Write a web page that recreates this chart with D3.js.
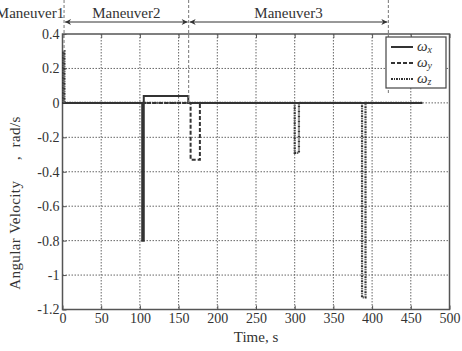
<!DOCTYPE html>
<html>
<head>
<meta charset="utf-8">
<title>Angular Velocity</title>
<style>
    body, html {
        margin: 0;
        padding: 0;
        background: #fff;
    }
    svg text {
        font-family: "Liberation Serif", "DejaVu Serif", serif;
        fill: #333;
    }
    .grid line {
        stroke: #666;
        stroke-width: 1;
        stroke-dasharray: 1.5, 1.5;
    }
</style>
</head>
<body>
<div id="chart"></div>
<script src="https://d3js.org/d3.v7.min.js"></script>
<script>

    // axis ticks
    var xTicks = [0, 50, 100, 150, 200, 250, 300, 350, 400, 450, 500];
    var yTicks = [0.4, 0.2, 0, -0.2, -0.4, -0.6, -0.8, -1, -1.2];

    // series (time in s, value in rad/s)
    var wxTime = [0, 103, 103, 105, 105, 162.5, 162.5, 465];
    var wxVal  = [0, 0, -0.8, -0.8, 0.04, 0.04, 0, 0];

    var wyTime = [0, 165.5, 165.5, 177.5, 177.5, 465];
    var wyVal  = [0, 0, -0.33, -0.33, 0, 0];

    var wzTime = [0, 1, 1, 2.5, 2.5, 300, 300, 305.5, 305.5, 387, 387, 391.5, 391.5, 465];
    var wzVal  = [0, 0, 0.3, 0.3, 0, 0, -0.29, -0.29, 0, 0, -1.13, -1.13, 0, 0];

    // manoeuvre boundaries (s) and names
    var maneuverBounds = [2, 163, 421];
    var maneuverNames = ['Maneuver1', 'Maneuver2', 'Maneuver3'];

    var width = 462;
    var height = 351;
    var plotL = 62.5, plotR = 449.5, plotT = 34, plotB = 309.5;

    var svg = d3.select('#chart')
        .append('svg')
        .attr('width', width)
        .attr('height', height);

    var x = d3.scaleLinear().domain([0, 500]).range([plotL, plotR]);
    var y = d3.scaleLinear().domain([-1.2, 0.4]).range([plotB, plotT]);

    // grid
    var grid = svg.append('g').attr('class', 'grid');
    grid.selectAll('.vx')
        .data(xTicks.slice(1, -1))
        .enter()
        .append('line')
        .attr('x1', function(d) { return x(d); })
        .attr('x2', function(d) { return x(d); })
        .attr('y1', plotT)
        .attr('y2', plotB);
    grid.selectAll('.hy')
        .data(yTicks.slice(1, -1))
        .enter()
        .append('line')
        .attr('x1', plotL)
        .attr('x2', plotR)
        .attr('y1', function(d) { return y(d); })
        .attr('y2', function(d) { return y(d); });

    // frame
    svg.append('rect')
        .attr('x', plotL)
        .attr('y', plotT)
        .attr('width', plotR - plotL)
        .attr('height', plotB - plotT)
        .attr('fill', 'none')
        .attr('stroke', '#555')
        .attr('stroke-width', 1.5);

    // axes (plain hyphen minus like the original)
    var fmt = function(d) { return String(d); };
    var xAxis = svg.append('g')
        .attr('transform', 'translate(0,' + plotB + ')')
        .call(d3.axisBottom(x).tickValues(xTicks).tickSizeInner(-4).tickSizeOuter(0).tickPadding(6).tickFormat(fmt));
    var yAxis = svg.append('g')
        .attr('transform', 'translate(' + plotL + ',0)')
        .call(d3.axisLeft(y).tickValues(yTicks).tickSizeInner(-4).tickSizeOuter(0).tickPadding(3).tickFormat(fmt));
    svg.selectAll('.domain').remove();
    svg.selectAll('.tick line').attr('stroke', '#555');
    svg.selectAll('.tick text')
        .style('font-size', '14px')
        .style('font-family', '"Liberation Serif", serif')
        .attr('fill', '#333');
    xAxis.selectAll('.tick text').attr('dy', '0.55em');

    // top ticks
    svg.append('g')
        .attr('transform', 'translate(0,' + plotT + ')')
        .call(d3.axisTop(x).tickValues(xTicks).tickSizeInner(-4).tickSizeOuter(0).tickFormat(''))
        .call(function(g) { g.select('.domain').remove(); g.selectAll('line').attr('stroke', '#555'); });

    // labels
    svg.append('text')
        .attr('x', (plotL + plotR) / 2)
        .attr('y', 342)
        .attr('text-anchor', 'middle')
        .style('font-size', '15px')
        .text('Time, s');

    svg.append('text')
        .attr('transform', 'translate(20,' + 203 + ') rotate(-90)')
        .attr('text-anchor', 'middle')
        .style('font-size', '15px')
        .style('letter-spacing', '0.4px')
        .style('white-space', 'pre')
        .text('Angular Velocity     ,  rad/s');

    // series
    var line = d3.line()
        .x(function(d) { return x(d[0]); })
        .y(function(d) { return y(d[1]); });

    var series = [
        { name: 'x', time: wxTime, val: wxVal, dash: null, width: 2 },
        { name: 'y', time: wyTime, val: wyVal, dash: '4,2', width: 2 },
        { name: 'z', time: wzTime, val: wzVal, dash: '2,1,1,1', width: 2.2 }
    ];

    series.slice().reverse().forEach(function(s) {
        var pts = s.time.map(function(t, i) { return [t, s.val[i]]; });
        svg.append('path')
            .datum(pts)
            .attr('d', line)
            .attr('fill', 'none')
            .attr('stroke', '#333')
            .attr('stroke-width', s.width)
            .attr('stroke-dasharray', s.dash);
    });

    // manoeuvre markers
    svg.selectAll('.bound')
        .data(maneuverBounds)
        .enter()
        .append('line')
        .attr('x1', function(d) { return x(d); })
        .attr('x2', function(d) { return x(d); })
        .attr('y1', 0)
        .attr('y2', function(d, i) { return i == 2 ? 95 : y(0); })
        .attr('stroke', '#777')
        .attr('stroke-width', 1)
        .attr('stroke-dasharray', '3,2');

    var defs = svg.append('defs');
    defs.append('marker')
        .attr('id', 'arrow')
        .attr('viewBox', '0 0 10 10')
        .attr('refX', 10)
        .attr('refY', 5)
        .attr('markerWidth', 7)
        .attr('markerHeight', 6)
        .attr('markerUnits', 'userSpaceOnUse')
        .attr('orient', 'auto-start-reverse')
        .append('path')
        .attr('d', 'M0,0 L10,5 L0,10 L3,5 Z')
        .attr('fill', '#333');

    var arrowY = 22;
    for (var k = 0; k < maneuverBounds.length - 1; k++) {
        svg.append('line')
            .attr('x1', x(maneuverBounds[k]) + 1)
            .attr('x2', x(maneuverBounds[k + 1]) - 1)
            .attr('y1', arrowY)
            .attr('y2', arrowY)
            .attr('stroke', '#333')
            .attr('stroke-width', 1)
            .attr('marker-start', 'url(#arrow)')
            .attr('marker-end', 'url(#arrow)');
    }

    var labelX = [30, (x(maneuverBounds[0]) + x(maneuverBounds[1])) / 2, (x(maneuverBounds[1]) + x(maneuverBounds[2])) / 2];
    svg.selectAll('.mlabel')
        .data(maneuverNames)
        .enter()
        .append('text')
        .attr('x', function(d, i) { return labelX[i]; })
        .attr('y', 18)
        .attr('text-anchor', 'middle')
        .style('font-size', '15px')
        .text(function(d) { return d; });

    // legend
    var legend = svg.append('g').attr('transform', 'translate(386,37)');
    legend.append('rect')
        .attr('width', 60)
        .attr('height', 51)
        .attr('fill', '#fff')
        .attr('stroke', '#444')
        .attr('stroke-width', 1.2);

    series.forEach(function(s, i) {
        var g = legend.append('g').attr('transform', 'translate(0,' + (10 + i * 16) + ')');
        g.append('line')
            .attr('x1', 5)
            .attr('x2', 27)
            .attr('y1', 0)
            .attr('y2', 0)
            .attr('stroke', '#333')
            .attr('stroke-width', s.width)
            .attr('stroke-dasharray', s.dash);
        var t = g.append('text')
            .attr('x', 31)
            .attr('y', 4)
            .style('font-size', '15px')
            .style('font-style', 'italic');
        t.append('tspan').text('ω');
        t.append('tspan')
            .attr('dy', 2)
            .style('font-size', '10px')
            .text(s.name);
    });

</script>
</body>
</html>
